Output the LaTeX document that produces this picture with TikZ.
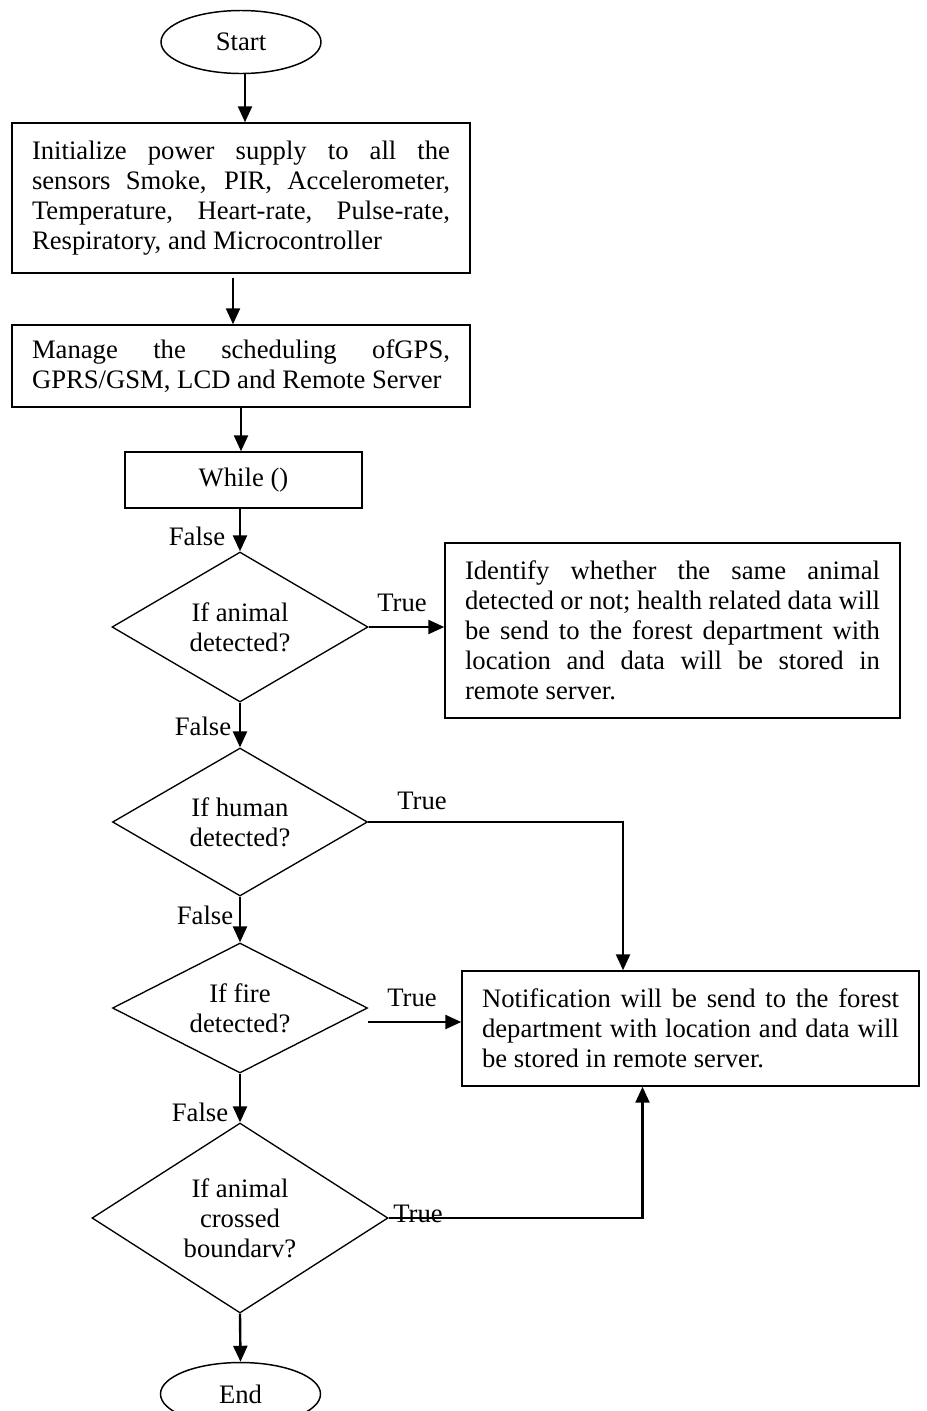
\documentclass[tikz,border=0pt]{standalone}
\usepackage{fontspec}
\setmainfont{Liberation Serif}
\usetikzlibrary{shapes.geometric,arrows.meta,calc}
\begin{document}
\begin{tikzpicture}[x=0.75pt,y=-0.75pt,
 font=\fontsize{20pt}{22.5pt}\selectfont,
 box/.style={draw,line width=1.1pt,rectangle,inner xsep=15pt,inner ysep=0pt,align=justify},
 dec/.style={draw,diamond,line width=1pt,inner sep=0pt,align=center},
 term/.style={draw,ellipse,line width=1.1pt,minimum width=120pt,minimum height=47.25pt,inner sep=0pt},
 arr/.style={line width=1.8pt,-{Triangle[length=12pt,width=10.5pt]}},
 lbl/.style={inner sep=0pt}]
\useasboundingbox (0,0) rectangle (926,1411);

% nodes
\node[term] (start) at (241,42) {Start};
\node[box,text width=313.5pt,minimum height=112.5pt] (b1) at (241,198)
 {Initialize power supply to all the\linebreak sensors Smoke, PIR, Accelerometer,\linebreak Temperature, Heart-rate, Pulse-rate,\linebreak Respiratory, and Microcontroller};
\node[box,text width=313.5pt,minimum height=61.5pt] (b2) at (241,366)
 {Manage the scheduling ofGPS,\linebreak GPRS/GSM, LCD and Remote Server};
\node[box,align=center,minimum width=177.75pt,minimum height=42pt,inner xsep=0pt] (wh) at (243.5,480) {While ()};
\node[dec,aspect=1.7,minimum width=192pt,minimum height=112.5pt] (d1) at (240,627) {If animal\\detected?};
\node[box,text width=311.25pt,minimum height=131.25pt] (anim) at (672.5,630.5)
 {Identify whether the same animal\linebreak detected or not; health related data will\linebreak be send to the forest department with\linebreak location and data will be stored in\linebreak remote server.};
\node[dec,aspect=1.7,minimum width=191.25pt,minimum height=111pt] (d2) at (240,822) {If human\\detected?};
\node[dec,aspect=1.96,minimum width=191.25pt,minimum height=97.5pt] (d3) at (240,1008) {If fire\\detected?};
\node[box,text width=312.75pt,minimum height=86.25pt] (notif) at (690.5,1028.5)
 {Notification will be send to the forest\linebreak department with location and data will\linebreak be stored in remote server.};
\node[dec,aspect=1.56,minimum width=222pt,minimum height=142.5pt] (d4) at (240,1218) {If animal\\crossed\\boundarv?};
\node[term] (end) at (240.5,1394) {End};

% labels
\node[lbl] (f1) at (197,536) {False};
\node[lbl] (f2) at (203,726) {False};
\node[lbl] (f3) at (205,915) {False};
\node[lbl] (f4) at (200,1112) {False};
\node[lbl] (t1) at (402,603) {True};
\node[lbl] (t2) at (422,801) {True};
\node[lbl] (t3) at (412,998) {True};
\node[lbl] (t4) at (418,1214) {True};

% connectors
\draw[arr] ([xshift=3pt]start.south) -- ([xshift=3pt]b1.north);
\draw[arr] ([xshift=-6pt,yshift=-3pt]b1.south) -- ([xshift=-6pt]b2.north);
\draw[arr] (b2.south) -- (b2.south |- wh.north);
\draw[arr] (d1.north |- wh.south) -- (d1.north);
\draw[arr] (d1.east) -- (d1.east -| anim.west);
\draw[arr] (d1.south) -- (d2.north);
\draw[arr] (d2.east) -| ([xshift=-50.6pt]notif.north);
\draw[arr] (d2.south) -- (d3.north);
\draw[arr] ([yshift=-10.5pt]d3.east) -- ([yshift=-10.5pt]d3.east -| notif.west);
\draw[arr] (d3.south) -- (d4.north);
\draw[arr] (d4.east) -| ([xshift=-36pt]notif.south);
\draw[arr] (d4.south) -- (end.north);
\end{tikzpicture}
\end{document}
